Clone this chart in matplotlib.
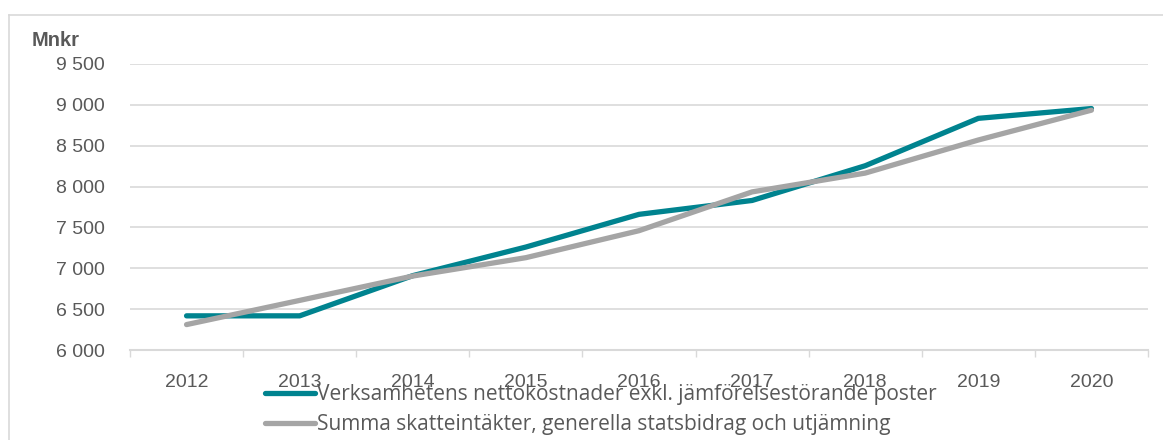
import numpy as np
import matplotlib.pyplot as plt
from matplotlib.lines import Line2D

# ====== DATA ======
years = ["2012", "2013", "2014", "2015", "2016", "2017", "2018", "2019", "2020"]
netto = [6418, 6418, 6910, 7260, 7660, 7830, 8255, 8835, 8955]
skatt = [6311, 6607, 6905, 7130, 7460, 7935, 8165, 8570, 8935]
yticks = [6000, 6500, 7000, 7500, 8000, 8500, 9000, 9500]
label_netto = "Verksamhetens nettokostnader exkl. jämförelsestörande poster"
label_skatt = "Summa skatteintäkter, generella statsbidrag och utjämning"

TEAL = "#00838F"
GREY = "#A5A5A5"
TXT = "#595959"

plt.rcParams["font.family"] = ["Liberation Sans", "DejaVu Sans"]

W, H = 1163, 440
fig = plt.figure(figsize=(W / 100, H / 100), dpi=100)
ax = fig.add_axes([130 / W, 1 - 350 / H, (1148 - 130) / W, (350 - 64) / H])

x = np.arange(len(years))
ax.plot(x, netto, color=TEAL, lw=3.8, solid_capstyle="round", solid_joinstyle="round", zorder=3)
ax.plot(x, skatt, color=GREY, lw=3.8, solid_capstyle="round", solid_joinstyle="round", zorder=4)

ax.set_xlim(-0.5, len(years) - 0.5)
ax.set_ylim(6000, 9500)
ax.set_yticks(yticks)
ax.set_yticklabels([f"{v:,}".replace(",", " ") for v in yticks], fontsize=14, color=TXT)
ax.set_xticks(x)
ax.set_xticklabels(years, fontsize=14, color=TXT)
ax.tick_params(axis="y", length=0, pad=18)
ax.tick_params(axis="x", which="major", length=0, pad=17)
ax.set_xticks(np.arange(-0.5, len(years)), minor=True)
ax.tick_params(axis="x", which="minor", length=5, width=1, color="#D9D9D9", direction="out")

ax.grid(axis="y", color="#D9D9D9", lw=1.2)
ax.set_axisbelow(True)
for s in ["top", "right", "left"]:
    ax.spines[s].set_visible(False)
ax.spines["bottom"].set_color("#D9D9D9")
ax.spines["bottom"].set_linewidth(1.5)

fig.text(32 / W, 1 - 40 / H, "Mnkr", fontsize=14.5, fontweight="bold", color=TXT, va="center")

# outer frame (partly cropped)
fig.add_artist(Line2D([9 / W, 9 / W], [0, 1 - 15 / H], color="#D9D9D9", lw=1.2))
fig.add_artist(Line2D([9 / W, 1], [1 - 15 / H, 1 - 15 / H], color="#D9D9D9", lw=1.2))

handles = [Line2D([], [], color=TEAL, lw=3.8, solid_capstyle="round"),
           Line2D([], [], color=GREY, lw=3.8, solid_capstyle="round")]
leg = fig.legend(handles, [label_netto, label_skatt], loc="upper left",
                 bbox_to_anchor=(265 / W, 1 - 384 / H), frameon=False,
                 handlelength=2.4, handletextpad=0.1, labelspacing=0.45,
                 borderpad=0, borderaxespad=0,
                 prop={"family": "Open Sans", "size": 15})
for t in leg.get_texts():
    t.set_color(TXT)

fig.savefig("out.png", dpi=100)
